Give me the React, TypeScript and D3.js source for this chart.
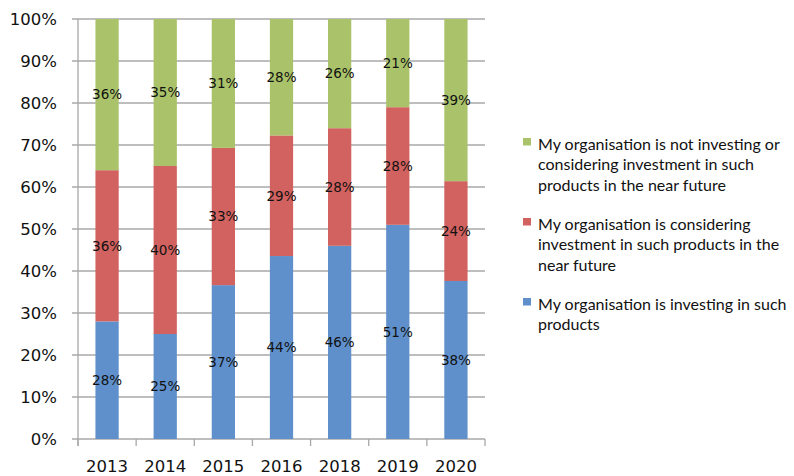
import React from "react";
import * as d3 from "d3";

const years = ["2013", "2014", "2015", "2016", "2018", "2019", "2020"];
const investing = [28, 25, 37, 44, 46, 51, 38];
const considering = [36, 40, 33, 29, 28, 28, 24];
const notInvesting = [36, 35, 31, 28, 26, 21, 39];
const yTicks = [0, 0.1, 0.2, 0.3, 0.4, 0.5, 0.6, 0.7, 0.8, 0.9, 1];

const seriesKeys = ["investing", "considering", "notInvesting"];
const seriesColors: Record<string, string> = {
  investing: "#5f90cc",
  considering: "#d1625f",
  notInvesting: "#aac36a",
};
const legendItems = [
  {
    key: "notInvesting",
    lines: [
      "My organisation is not investing or",
      "considering investment in such",
      "products in the near future",
    ],
  },
  {
    key: "considering",
    lines: [
      "My organisation is considering",
      "investment in such products in the",
      "near future",
    ],
  },
  {
    key: "investing",
    lines: ["My organisation is investing in such", "products"],
  },
];

const W = 794;
const H = 476;
const left = 78;
const right = 485;
const top = 19;
const bottom = 439;
const gridColor = "#a8a8a8";
const numFont = "'DejaVu Sans', sans-serif";
const legendFont = "Lato, 'Open Sans', sans-serif";

export default function App() {
  const rows = years.map((y, i) => ({
    year: y,
    investing: investing[i],
    considering: considering[i],
    notInvesting: notInvesting[i],
  }));
  const stack = d3
    .stack<any>()
    .keys(seriesKeys)
    .offset(d3.stackOffsetExpand);
  const stacked = stack(rows);
  const raw: Record<string, number[]> = { investing, considering, notInvesting };

  const x = d3
    .scaleBand<string>()
    .domain(years)
    .range([left, right])
    .paddingInner(0.6)
    .paddingOuter(0.3);
  const y = d3.scaleLinear().domain([0, 1]).range([bottom, top]);
  const step = x.step();
  const boundaries = d3.range(years.length + 1).map((i) => left + i * step);

  return (
    <div style={{ position: "fixed", left: 0, top: 0 }}>
      <svg width={W} height={H} style={{ display: "block", background: "#fff" }}>
        {yTicks.map((t) => (
          <line
            key={"g" + t}
            x1={72}
            x2={right}
            y1={y(t)}
            y2={y(t)}
            stroke={gridColor}
            strokeWidth={1.3}
          />
        ))}
        <line x1={left} x2={left} y1={top} y2={bottom + 7} stroke={gridColor} strokeWidth={1.3} />
        {boundaries.map((bx, i) => (
          <line
            key={"xt" + i}
            x1={bx}
            x2={bx}
            y1={bottom}
            y2={bottom + 7}
            stroke={gridColor}
            strokeWidth={1.3}
          />
        ))}
        {yTicks.map((t) => (
          <text
            key={"yl" + t}
            x={57}
            y={y(t)}
            dy="0.36em"
            textAnchor="end"
            fontFamily={numFont}
            fontSize={16.5}
            fill="#111"
          >
            {d3.format(".0%")(t)}
          </text>
        ))}
        {stacked.map((s) => (
          <g key={s.key} fill={seriesColors[s.key]}>
            {s.map((d, i) => (
              <rect
                key={i}
                x={x(years[i])}
                width={x.bandwidth()}
                y={y(d[1])}
                height={y(d[0]) - y(d[1])}
              />
            ))}
          </g>
        ))}
        {stacked.map((s) =>
          s.map((d, i) => (
            <text
              key={s.key + "l" + i}
              x={(x(years[i]) as number) + x.bandwidth() / 2}
              y={(y(d[0]) + y(d[1])) / 2}
              dy="0.36em"
              textAnchor="middle"
              fontFamily={numFont}
              fontSize={13.5}
              fill="#111"
            >
              {raw[s.key][i] + "%"}
            </text>
          ))
        )}
        {years.map((yr) => (
          <text
            key={"xl" + yr}
            x={(x(yr) as number) + x.bandwidth() / 2}
            y={471.5}
            textAnchor="middle"
            fontFamily={numFont}
            fontSize={16.5}
            fill="#111"
          >
            {yr}
          </text>
        ))}
        {legendItems.map((item, gi) => (
          <g key={item.key} transform={`translate(0, ${gi * 80})`}>
            <rect x={523} y={138} width={8} height={7.5} fill={seriesColors[item.key]} />
            {item.lines.map((ln, li) => (
              <text
                key={li}
                x={538}
                y={150 + li * 20.3}
                fontFamily={legendFont}
                fontSize={16}
                fill="#111"
              >
                {ln}
              </text>
            ))}
          </g>
        ))}
      </svg>
    </div>
  );
}
